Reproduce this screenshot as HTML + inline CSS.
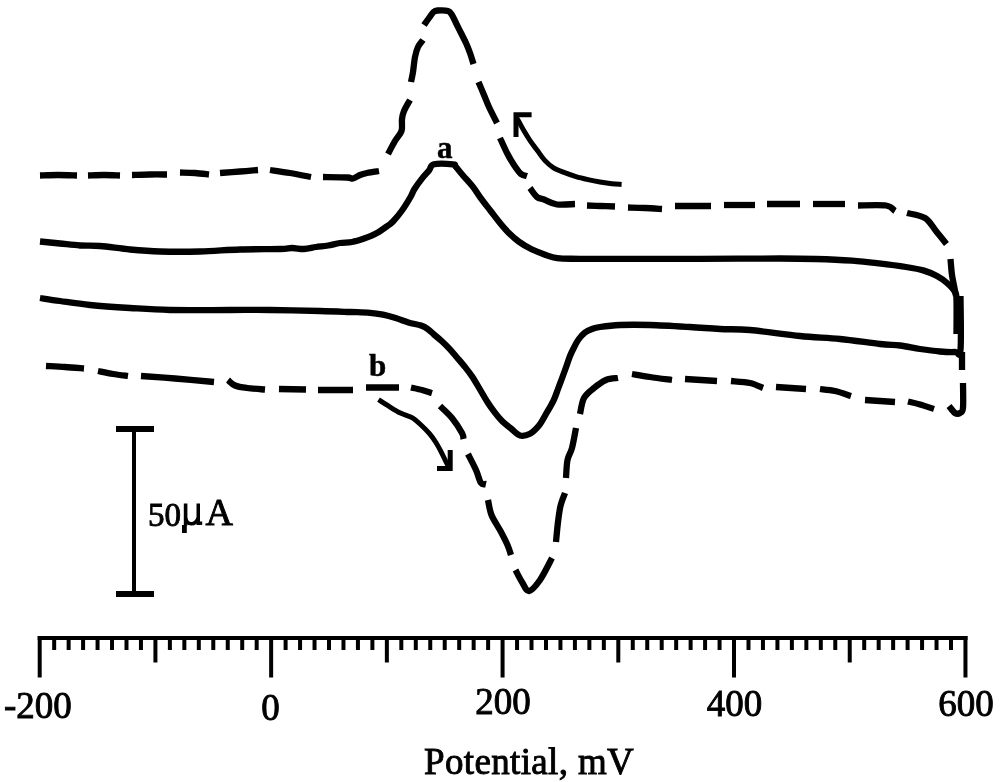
<!DOCTYPE html>
<html><head><meta charset="utf-8"><style>
html,body{margin:0;padding:0;background:#fff;width:1000px;height:782px;overflow:hidden}
svg{filter:grayscale(1)}
svg{display:block}
</style></head><body>
<svg width="1000" height="782" viewBox="0 0 1000 782">
<g fill="none" stroke="#000" stroke-width="6.3" stroke-linejoin="round" stroke-linecap="butt">
<path d="M40.00,175.50 C43.00,175.42 51.83,175.00 58.00,175.00 C64.17,175.00 73.83,175.42 77.00,175.50"/>
<path d="M88.00,175.50 C90.67,175.42 98.67,175.00 104.00,175.00 C109.33,175.00 117.33,175.42 120.00,175.50"/>
<path d="M132.00,175.00 C135.00,174.92 144.17,174.58 150.00,174.50 C155.83,174.42 164.17,174.50 167.00,174.50"/>
<path d="M180.00,172.50 C182.50,172.58 190.17,172.67 195.00,173.00 C199.83,173.33 206.67,174.25 209.00,174.50"/>
<path d="M220.00,173.00 C223.33,172.75 233.67,172.00 240.00,171.50 C246.33,171.00 255.00,170.25 258.00,170.00"/>
<path d="M270.00,170.00 C273.33,170.50 283.17,171.83 290.00,173.00 C296.83,174.17 307.50,176.33 311.00,177.00"/>
<path d="M323.00,177.00 C327.00,177.08 342.00,177.25 347.00,177.50 C352.00,177.75 350.83,178.92 353.00,178.50 C355.17,178.08 357.67,175.92 360.00,175.00 C362.33,174.08 363.83,173.67 367.00,173.00 C370.17,172.33 377.00,171.33 379.00,171.00"/>
<path d="M388.00,154.00 C389.17,151.83 392.75,144.83 395.00,141.00 C397.25,137.17 400.33,134.67 401.50,131.00 C402.67,127.33 401.58,122.33 402.00,119.00 C402.42,115.67 402.67,114.17 404.00,111.00 C405.33,107.83 409.00,101.83 410.00,100.00"/>
<path d="M411.00,82.00 C411.33,80.33 412.33,76.17 413.00,72.00 C413.67,67.83 414.17,61.17 415.00,57.00 C415.83,52.83 416.67,49.83 418.00,47.00 C419.33,44.17 422.17,41.17 423.00,40.00"/>
<path d="M424.00,25.00 C424.83,23.83 427.42,20.17 429.00,18.00 C430.58,15.83 432.08,13.25 433.50,12.00 C434.92,10.75 435.08,10.67 437.50,10.50 C439.92,10.33 445.58,10.25 448.00,11.00 C450.42,11.75 450.67,13.00 452.00,15.00 C453.33,17.00 454.50,20.00 456.00,23.00 C457.50,26.00 459.33,29.67 461.00,33.00 C462.67,36.33 464.50,39.67 466.00,43.00 C467.50,46.33 468.75,49.50 470.00,53.00 C471.25,56.50 472.92,62.17 473.50,64.00"/>
<path d="M478.50,82.00 C479.42,84.17 482.25,90.83 484.00,95.00 C485.75,99.17 486.83,102.33 489.00,107.00 C491.17,111.67 495.67,120.33 497.00,123.00"/>
<path d="M500.00,138.00 C501.17,140.50 504.67,148.50 507.00,153.00 C509.33,157.50 511.67,161.50 514.00,165.00 C516.33,168.50 518.83,172.17 521.00,174.00 C523.17,175.83 526.00,175.67 527.00,176.00"/>
<path d="M530.00,188.00 C531.17,189.50 534.67,195.08 537.00,197.00 C539.33,198.92 540.67,198.25 544.00,199.50 C547.33,200.75 551.83,203.75 557.00,204.50 C562.17,205.25 572.00,204.08 575.00,204.00"/>
<path d="M587.00,205.50 C589.17,205.58 595.33,205.83 600.00,206.00 C604.67,206.17 612.50,206.42 615.00,206.50"/>
<path d="M628.00,207.50 C630.83,207.58 639.33,207.75 645.00,208.00 C650.67,208.25 659.17,208.83 662.00,209.00"/>
<path d="M675.00,206.00 L711.00,206.00"/>
<path d="M724.00,205.00 L755.00,205.00"/>
<path d="M767.00,204.00 L800.00,204.00"/>
<path d="M813.00,204.00 L845.00,204.00"/>
<path d="M858.00,205.50 C862.67,205.50 879.83,204.58 886.00,205.50 C892.17,206.42 893.50,210.08 895.00,211.00"/>
<path d="M907.00,213.00 C910.00,213.83 920.17,215.00 925.00,218.00 C929.83,221.00 932.42,226.67 936.00,231.00 C939.58,235.33 944.75,241.83 946.50,244.00"/>
<path d="M950.50,259.00 C950.75,261.67 951.33,270.17 952.00,275.00 C952.67,279.83 953.83,284.50 954.50,288.00 C955.17,291.50 955.75,294.67 956.00,296.00"/>
<path d="M962.00,352.00 L962.00,370.00"/>
<path d="M963.00,383.00 C963.00,387.17 963.50,403.00 963.00,408.00 C962.50,413.00 961.33,412.17 960.00,413.00 C958.67,413.83 956.83,414.17 955.00,413.00 C953.17,411.83 950.00,407.17 949.00,406.00"/>
<path d="M46.00,366.00 C49.17,366.17 58.67,366.58 65.00,367.00 C71.33,367.42 80.83,368.25 84.00,368.50"/>
<path d="M98.00,371.00 C100.50,371.50 108.00,373.17 113.00,374.00 C118.00,374.83 125.50,375.67 128.00,376.00"/>
<path d="M141.00,376.00 C146.67,376.42 162.83,377.50 175.00,378.50 C187.17,379.50 207.50,381.42 214.00,382.00"/>
<path d="M228.00,380.00 C229.17,380.92 231.83,384.17 235.00,385.50 C238.17,386.83 242.00,387.33 247.00,388.00 C252.00,388.67 262.00,389.25 265.00,389.50"/>
<path d="M279.00,389.00 L306.00,389.50"/>
<path d="M318.00,390.00 L353.00,390.00"/>
<path d="M366.00,387.50 L399.00,387.50"/>
<path d="M411.00,387.50 C412.83,387.92 418.50,389.08 422.00,390.00 C425.50,390.92 430.33,392.50 432.00,393.00"/>
<path d="M440.00,406.00 C442.00,408.00 448.33,413.50 452.00,418.00 C455.67,422.50 460.08,429.50 462.00,433.00 C463.92,436.50 463.25,438.00 463.50,439.00"/>
<path d="M468.00,454.00 C469.33,456.67 473.83,465.17 476.00,470.00 C478.17,474.83 479.33,480.67 481.00,483.00 C482.67,485.33 485.17,483.83 486.00,484.00"/>
<path d="M488.00,500.00 C488.58,502.50 489.42,509.83 491.50,515.00 C493.58,520.17 497.83,526.00 500.50,531.00 C503.17,536.00 505.75,541.00 507.50,545.00 C509.25,549.00 510.42,553.33 511.00,555.00"/>
<path d="M515.50,570.00 C516.58,572.00 519.75,578.50 522.00,582.00 C524.25,585.50 526.00,591.33 529.00,591.00 C532.00,590.67 536.17,585.50 540.00,580.00 C543.83,574.50 550.00,561.67 552.00,558.00"/>
<path d="M556.00,542.00 C556.33,538.67 557.25,528.00 558.00,522.00 C558.75,516.00 559.33,510.83 560.50,506.00 C561.67,501.17 564.25,495.17 565.00,493.00"/>
<path d="M566.00,478.00 C566.25,475.00 566.50,465.00 567.50,460.00 C568.50,455.00 570.58,453.33 572.00,448.00 C573.42,442.67 575.33,431.33 576.00,428.00"/>
<path d="M580.00,414.00 C580.67,411.33 581.67,402.33 584.00,398.00 C586.33,393.67 590.33,391.00 594.00,388.00 C597.67,385.00 602.00,381.67 606.00,380.00 C610.00,378.33 616.00,378.33 618.00,378.00"/>
<path d="M632.00,374.00 C635.00,374.50 643.33,376.00 650.00,377.00 C656.67,378.00 668.33,379.50 672.00,380.00"/>
<path d="M685.00,379.00 L717.00,381.00"/>
<path d="M731.00,381.00 C734.17,381.33 744.67,381.83 750.00,383.00 C755.33,384.17 760.83,387.17 763.00,388.00"/>
<path d="M776.00,387.00 L806.00,389.00"/>
<path d="M820.00,389.00 C822.50,389.33 829.83,389.83 835.00,391.00 C840.17,392.17 848.33,395.17 851.00,396.00"/>
<path d="M865.00,400.00 L895.00,402.00"/>
<path d="M908.00,401.50 C910.00,402.00 915.67,403.25 920.00,404.50 C924.33,405.75 931.67,408.25 934.00,409.00"/>
<path d="M40.00,241.50 C43.33,241.83 53.33,242.83 60.00,243.50 C66.67,244.17 73.33,245.08 80.00,245.50 C86.67,245.92 91.67,245.33 100.00,246.00 C108.33,246.67 120.00,248.58 130.00,249.50 C140.00,250.42 148.33,251.17 160.00,251.50 C171.67,251.83 186.67,251.83 200.00,251.50 C213.33,251.17 226.67,249.92 240.00,249.50 C253.33,249.08 271.33,249.25 280.00,249.00 C288.67,248.75 288.00,248.00 292.00,248.00 C296.00,248.00 300.00,249.17 304.00,249.00 C308.00,248.83 312.00,247.58 316.00,247.00 C320.00,246.42 324.00,246.17 328.00,245.50 C332.00,244.83 336.00,243.58 340.00,243.00 C344.00,242.42 348.00,242.75 352.00,242.00 C356.00,241.25 360.00,239.92 364.00,238.50 C368.00,237.08 372.00,235.67 376.00,233.50 C380.00,231.33 385.17,227.50 388.00,225.50 C390.83,223.50 390.67,224.00 393.00,221.50 C395.33,219.00 399.08,214.58 402.00,210.50 C404.92,206.42 408.42,200.58 410.50,197.00 C412.58,193.42 412.47,192.23 414.50,189.00 C416.53,185.77 420.28,180.68 422.70,177.60 C425.12,174.52 427.12,172.72 429.00,170.50 C430.88,168.28 430.00,165.33 434.00,164.30 C438.00,163.27 449.42,163.95 453.00,164.30 C456.58,164.65 453.90,164.62 455.50,166.40 C457.10,168.18 459.72,171.63 462.60,175.00 C465.48,178.37 469.62,182.53 472.80,186.60 C475.98,190.67 478.72,195.33 481.70,199.40 C484.68,203.47 487.72,207.17 490.70,211.00 C493.68,214.83 496.62,218.78 499.60,222.40 C502.58,226.02 505.40,229.50 508.60,232.70 C511.80,235.90 514.97,238.83 518.80,241.60 C522.63,244.37 527.33,247.17 531.60,249.30 C535.87,251.43 540.13,252.92 544.40,254.40 C548.67,255.88 551.27,257.47 557.20,258.20 C563.13,258.93 564.53,258.70 580.00,258.80 C595.47,258.90 630.00,258.80 650.00,258.80 C670.00,258.80 678.33,258.85 700.00,258.80 C721.67,258.75 760.67,258.47 780.00,258.50 C799.33,258.53 804.00,258.63 816.00,259.00 C828.00,259.37 841.50,259.97 852.00,260.70 C862.50,261.43 870.00,262.35 879.00,263.40 C888.00,264.45 898.50,265.80 906.00,267.00 C913.50,268.20 918.83,269.10 924.00,270.60 C929.17,272.10 933.17,273.93 937.00,276.00 C940.83,278.07 944.00,280.33 947.00,283.00 C950.00,285.67 953.42,289.17 955.00,292.00 C956.58,294.83 956.25,293.00 956.50,300.00 C956.75,307.00 956.50,328.33 956.50,334.00"/>
<path d="M960.50,296.00 C960.50,305.00 961.42,340.67 960.50,350.00 C959.58,359.33 958.42,351.75 955.00,352.00 C951.58,352.25 945.83,352.00 940.00,351.50 C934.17,351.00 926.67,350.00 920.00,349.00 C913.33,348.00 906.67,346.33 900.00,345.50 C893.33,344.67 890.00,345.08 880.00,344.00 C870.00,342.92 853.33,340.33 840.00,339.00 C826.67,337.67 815.00,337.50 800.00,336.00 C785.00,334.50 763.33,331.17 750.00,330.00 C736.67,328.83 730.00,329.50 720.00,329.00 C710.00,328.50 701.67,327.67 690.00,327.00 C678.33,326.33 661.67,325.33 650.00,325.00 C638.33,324.67 628.33,324.67 620.00,325.00 C611.67,325.33 604.67,326.33 600.00,327.00 C595.33,327.67 594.50,328.08 592.00,329.00 C589.50,329.92 587.25,330.75 585.00,332.50 C582.75,334.25 580.33,337.00 578.50,339.50 C576.67,342.00 575.42,344.75 574.00,347.50 C572.58,350.25 571.25,352.92 570.00,356.00 C568.75,359.08 567.75,362.50 566.50,366.00 C565.25,369.50 563.92,373.17 562.50,377.00 C561.08,380.83 559.50,385.07 558.00,389.00 C556.50,392.93 555.50,396.43 553.50,400.60 C551.50,404.77 548.42,409.83 546.00,414.00 C543.58,418.17 541.67,422.32 539.00,425.60 C536.33,428.88 533.17,432.05 530.00,433.70 C526.83,435.35 523.17,436.37 520.00,435.50 C516.83,434.63 514.00,430.92 511.00,428.50 C508.00,426.08 504.72,423.68 502.00,421.00 C499.28,418.32 497.13,415.57 494.70,412.40 C492.27,409.23 489.85,405.82 487.40,402.00 C484.95,398.18 482.52,393.72 480.00,389.50 C477.48,385.28 474.87,380.53 472.30,376.70 C469.73,372.87 467.15,369.70 464.60,366.50 C462.05,363.30 459.55,360.48 457.00,357.50 C454.45,354.52 451.87,351.35 449.30,348.60 C446.73,345.85 444.15,343.35 441.60,341.00 C439.05,338.65 436.35,336.53 434.00,334.50 C431.65,332.47 429.67,330.28 427.50,328.80 C425.33,327.32 424.18,326.67 421.00,325.60 C417.82,324.53 412.63,323.67 408.40,322.40 C404.17,321.13 399.83,319.28 395.60,318.00 C391.37,316.72 387.27,315.57 383.00,314.70 C378.73,313.83 375.50,313.25 370.00,312.80 C364.50,312.35 358.33,312.30 350.00,312.00 C341.67,311.70 333.33,311.33 320.00,311.00 C306.67,310.67 285.00,310.17 270.00,310.00 C255.00,309.83 246.67,310.00 230.00,310.00 C213.33,310.00 186.67,310.33 170.00,310.00 C153.33,309.67 143.33,308.83 130.00,308.00 C116.67,307.17 101.67,306.17 90.00,305.00 C78.33,303.83 68.33,302.17 60.00,301.00 C51.67,299.83 43.33,298.50 40.00,298.00"/>
</g>
<g fill="none" stroke="#000" stroke-width="5" stroke-linejoin="miter" stroke-linecap="butt">
<path d="M621.60,184.40 C620.00,184.30 615.60,184.20 612.00,183.80 C608.40,183.40 604.00,182.70 600.00,182.00 C596.00,181.30 592.00,180.50 588.00,179.60 C584.00,178.70 580.00,177.80 576.00,176.60 C572.00,175.40 567.80,173.90 564.00,172.40 C560.20,170.90 556.40,169.60 553.20,167.60 C550.00,165.60 547.40,163.20 544.80,160.40 C542.20,157.60 540.00,154.00 537.60,150.80 C535.20,147.60 532.60,144.40 530.40,141.20 C528.20,138.00 526.40,135.00 524.40,131.60 C522.40,128.20 519.80,123.23 518.40,120.80 C517.00,118.37 516.40,117.63 516.00,117.00"/>
<polyline points="531.6,114.8 516,114.8 516,137"/>
<path d="M378.50,399.60 C380.08,400.62 384.35,403.47 388.00,405.70 C391.65,407.93 396.32,410.98 400.40,413.00 C404.48,415.02 409.07,415.80 412.50,417.80 C415.93,419.80 418.17,422.37 421.00,425.00 C423.83,427.63 427.07,430.77 429.50,433.60 C431.93,436.43 433.77,439.17 435.60,442.00 C437.43,444.83 438.88,447.55 440.50,450.60 C442.12,453.65 443.98,457.67 445.30,460.30 C446.62,462.93 447.88,465.38 448.40,466.40"/>
<polyline points="437,468.5 450.2,468.5 450.2,450"/>
</g>
<g stroke="#000" stroke-width="4">
<line x1="37.7" y1="638" x2="967.5" y2="638"/>
<line x1="39.70" y1="636" x2="39.70" y2="677.5"/><line x1="54.17" y1="636" x2="54.17" y2="650"/><line x1="68.63" y1="636" x2="68.63" y2="650"/><line x1="83.09" y1="636" x2="83.09" y2="650"/><line x1="97.56" y1="636" x2="97.56" y2="650"/><line x1="112.03" y1="636" x2="112.03" y2="650"/><line x1="126.49" y1="636" x2="126.49" y2="650"/><line x1="140.95" y1="636" x2="140.95" y2="650"/><line x1="155.42" y1="636" x2="155.42" y2="662.5"/><line x1="169.88" y1="636" x2="169.88" y2="650"/><line x1="184.35" y1="636" x2="184.35" y2="650"/><line x1="198.81" y1="636" x2="198.81" y2="650"/><line x1="213.28" y1="636" x2="213.28" y2="650"/><line x1="227.75" y1="636" x2="227.75" y2="650"/><line x1="242.21" y1="636" x2="242.21" y2="650"/><line x1="256.68" y1="636" x2="256.68" y2="650"/><line x1="271.14" y1="636" x2="271.14" y2="677.5"/><line x1="285.61" y1="636" x2="285.61" y2="650"/><line x1="300.07" y1="636" x2="300.07" y2="650"/><line x1="314.53" y1="636" x2="314.53" y2="650"/><line x1="329.00" y1="636" x2="329.00" y2="650"/><line x1="343.46" y1="636" x2="343.46" y2="650"/><line x1="357.93" y1="636" x2="357.93" y2="650"/><line x1="372.39" y1="636" x2="372.39" y2="650"/><line x1="386.86" y1="636" x2="386.86" y2="662.5"/><line x1="401.32" y1="636" x2="401.32" y2="650"/><line x1="415.79" y1="636" x2="415.79" y2="650"/><line x1="430.25" y1="636" x2="430.25" y2="650"/><line x1="444.72" y1="636" x2="444.72" y2="650"/><line x1="459.19" y1="636" x2="459.19" y2="650"/><line x1="473.65" y1="636" x2="473.65" y2="650"/><line x1="488.12" y1="636" x2="488.12" y2="650"/><line x1="502.58" y1="636" x2="502.58" y2="677.5"/><line x1="517.05" y1="636" x2="517.05" y2="650"/><line x1="531.51" y1="636" x2="531.51" y2="650"/><line x1="545.98" y1="636" x2="545.98" y2="650"/><line x1="560.44" y1="636" x2="560.44" y2="650"/><line x1="574.91" y1="636" x2="574.91" y2="650"/><line x1="589.37" y1="636" x2="589.37" y2="650"/><line x1="603.84" y1="636" x2="603.84" y2="650"/><line x1="618.30" y1="636" x2="618.30" y2="662.5"/><line x1="632.77" y1="636" x2="632.77" y2="650"/><line x1="647.23" y1="636" x2="647.23" y2="650"/><line x1="661.70" y1="636" x2="661.70" y2="650"/><line x1="676.16" y1="636" x2="676.16" y2="650"/><line x1="690.62" y1="636" x2="690.62" y2="650"/><line x1="705.09" y1="636" x2="705.09" y2="650"/><line x1="719.56" y1="636" x2="719.56" y2="650"/><line x1="734.02" y1="636" x2="734.02" y2="677.5"/><line x1="748.49" y1="636" x2="748.49" y2="650"/><line x1="762.95" y1="636" x2="762.95" y2="650"/><line x1="777.42" y1="636" x2="777.42" y2="650"/><line x1="791.88" y1="636" x2="791.88" y2="650"/><line x1="806.35" y1="636" x2="806.35" y2="650"/><line x1="820.81" y1="636" x2="820.81" y2="650"/><line x1="835.28" y1="636" x2="835.28" y2="650"/><line x1="849.74" y1="636" x2="849.74" y2="662.5"/><line x1="864.21" y1="636" x2="864.21" y2="650"/><line x1="878.67" y1="636" x2="878.67" y2="650"/><line x1="893.14" y1="636" x2="893.14" y2="650"/><line x1="907.60" y1="636" x2="907.60" y2="650"/><line x1="922.07" y1="636" x2="922.07" y2="650"/><line x1="936.53" y1="636" x2="936.53" y2="650"/><line x1="951.00" y1="636" x2="951.00" y2="650"/><line x1="965.46" y1="636" x2="965.46" y2="677.5"/>
<line x1="134" y1="426" x2="134" y2="596"/>
</g>
<rect x="116" y="426" width="38" height="6" fill="#000"/>
<rect x="116" y="591" width="38" height="6" fill="#000"/>
<g fill="#000"><rect x="183.8" y="503.5" width="3.6" height="22"/><rect x="182" y="525" width="4.8" height="8"/><rect x="196.5" y="503.5" width="3.5" height="21.5"/><rect x="199" y="521.5" width="3.2" height="3.4"/></g>
<path d="M185.6,518 C187,525.5 195,526 198.3,518" fill="none" stroke="#000" stroke-width="3.6"/>
<g font-family="Liberation Serif, serif" fill="#000" stroke="#000" stroke-width="0.9">
<text x="4" y="718" font-size="37">-200</text>
<text x="270.5" y="720" font-size="37" text-anchor="middle">0</text>
<text x="503" y="714" font-size="37" text-anchor="middle">200</text>
<text x="734.5" y="716" font-size="37" text-anchor="middle">400</text>
<text x="966" y="716" font-size="37" text-anchor="middle">600</text>
<text x="424" y="774" font-size="37" letter-spacing="0.35">Potential, mV</text>
<text x="148" y="525.5" font-size="33">50</text><text x="205.5" y="525.3" font-size="38">A</text>
<text x="437" y="157.5" font-size="31" font-weight="bold" stroke-width="0.5">a</text>
<text x="369" y="376" font-size="31" font-weight="bold" stroke-width="0.5">b</text>
</g>
</svg>
</body></html>
